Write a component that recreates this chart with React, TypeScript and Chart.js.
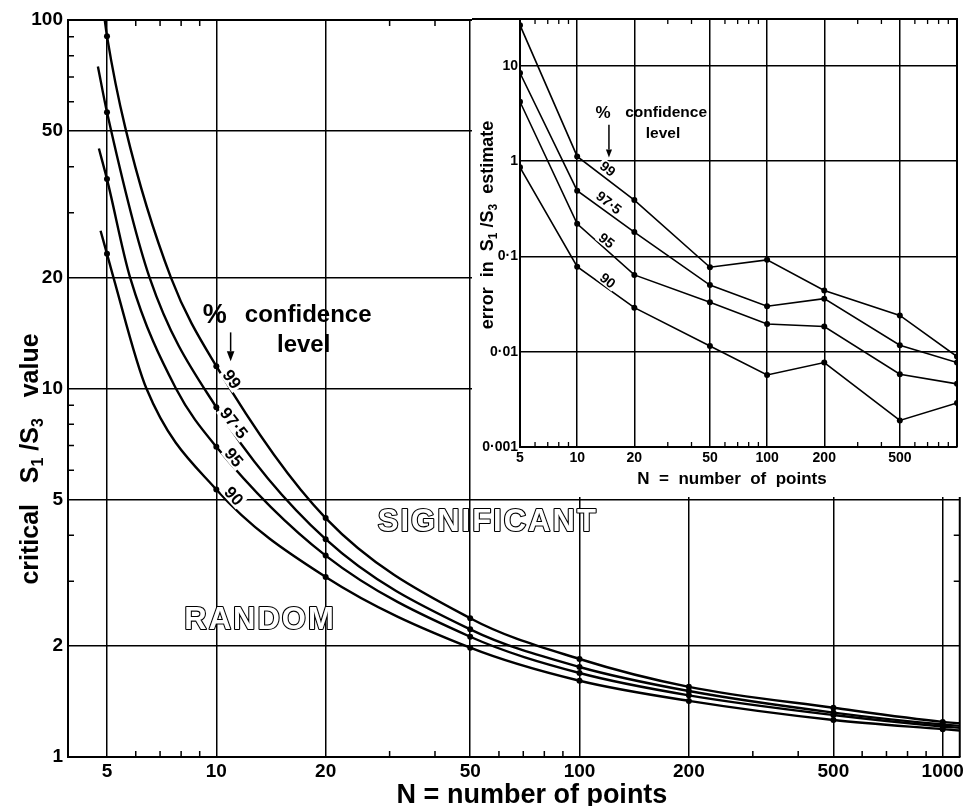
import React, { useEffect, useRef } from 'react';
import { Chart, registerables } from 'chart.js';

Chart.register(...registerables);

const FONT = "'Liberation Sans', Arial, Helvetica, sans-serif";

// ---------- main chart: critical S1/S3 value ----------
const LEVELS = ['99', '97·5', '95', '90'];
const N_VALUES = [5, 10, 20, 50, 100, 200, 500, 1000];
const CRIT_99 = [90.4, 11.5, 4.45, 2.38, 1.845, 1.55, 1.36, 1.245];
const CRIT_975 = [56.2, 8.89, 3.9, 2.22, 1.755, 1.51, 1.32, 1.225];
const CRIT_95 = [37.0, 6.95, 3.52, 2.12, 1.69, 1.47, 1.3, 1.21];
const CRIT_90 = [23.2, 5.32, 3.08, 1.98, 1.61, 1.42, 1.26, 1.19];
// extra points (drawn without markers)
const TRACE_99 = [[4.93, 100], [5.61, 51.2], [7.5, 20], [1114, 1.235]];
const TRACE_975 = [[4.72, 74.8], [6.55, 20], [1114, 1.215]];
const TRACE_95 = [[4.75, 44.8], [5.79, 20], [7.74, 10], [1114, 1.2]];
const TRACE_90 = [[4.8, 26.8], [5.21, 20], [6.42, 10], [1114, 1.18]];

// ---------- inset: error in S1/S3 estimate ----------
const ERR_99 = [26.7, 1.12, 0.39, 0.077, 0.092, 0.044, 0.024, 0.0089];
const ERR_975 = [8.4, 0.49, 0.18, 0.05, 0.03, 0.036, 0.0117, 0.0077];
const ERR_95 = [4.2, 0.22, 0.064, 0.033, 0.0195, 0.0184, 0.0058, 0.0046];
const ERR_90 = [0.86, 0.078, 0.029, 0.0115, 0.0057, 0.0077, 0.0019, 0.0029];

// ---------- ticks ----------
const MAIN_X_TICKS = [5, 10, 20, 50, 100, 200, 500, 1000];
const MAIN_X_LABELS = ['5', '10', '20', '50', '100', '200', '500', '1000'];
const MAIN_Y_TICKS = [1, 2, 5, 10, 20, 50, 100];
const MAIN_Y_LABELS = ['1', '2', '5', '10', '20', '50', '100'];
const X_MINOR = [6, 7, 8, 9, 30, 40, 60, 70, 80, 90, 300, 400, 600, 700, 800, 900];
const Y_MINOR = [3, 4, 6, 7, 8, 9, 30, 40, 60, 70, 80, 90];
const INSET_X_TICKS = [5, 10, 20, 50, 100, 200, 500, 1000];
const INSET_X_LABELS = ['5', '10', '20', '50', '100', '200', '500', ''];
const INSET_Y_TICKS = [0.001, 0.01, 0.1, 1, 10];
const INSET_Y_LABELS = ['0·001', '0·01', '0·1', '1', '10'];

const MAIN_X_RANGE = [3.905, 1114];
const MAIN_Y_RANGE = [1, 100];
const INSET_X_RANGE = [5, 1000];
const INSET_Y_RANGE = [0.001, 31];

function curvePoints(dots: number[], trace: number[][]) {
  const pts = dots
    .map((v, i) => ({ x: N_VALUES[i], y: v, dot: true }))
    .concat(trace.map(([x, y]) => ({ x, y, dot: false })));
  pts.sort((a, b) => a.x - b.x);
  return pts;
}

function rotLabel(ctx: any, text: string, cx: number, cy: number, deg: number, size: number, bg = true) {
  ctx.save();
  ctx.translate(cx, cy);
  ctx.rotate((deg * Math.PI) / 180);
  ctx.font = `bold ${size}px ${FONT}`;
  ctx.textAlign = 'center';
  ctx.textBaseline = 'middle';
  if (bg) {
    const w = ctx.measureText(text).width;
    ctx.fillStyle = '#fff';
    ctx.fillRect(-w / 2 - 2, -size * 0.45, w + 4, size * 0.9);
  }
  ctx.fillStyle = '#000';
  ctx.fillText(text, 0, 1);
  ctx.restore();
}

function plainText(ctx: any, text: string, cx: number, cy: number, size: number) {
  ctx.save();
  ctx.font = `bold ${size}px ${FONT}`;
  ctx.textAlign = 'center';
  ctx.textBaseline = 'middle';
  ctx.fillStyle = '#000';
  ctx.fillText(text, cx, cy);
  ctx.restore();
}

function arrow(ctx: any, x: number, y1: number, y2: number, head: number) {
  ctx.save();
  ctx.strokeStyle = '#000';
  ctx.fillStyle = '#000';
  ctx.lineWidth = 1.5;
  ctx.beginPath();
  ctx.moveTo(x, y1);
  ctx.lineTo(x, y2 - head);
  ctx.stroke();
  ctx.beginPath();
  ctx.moveTo(x - head * 0.38, y2 - head);
  ctx.lineTo(x + head * 0.38, y2 - head);
  ctx.lineTo(x, y2);
  ctx.closePath();
  ctx.fill();
  ctx.restore();
}

function outlineText(ctx: any, text: string, cx: number, cy: number) {
  ctx.save();
  ctx.font = `bold 31px ${FONT}`;
  try { ctx.letterSpacing = '2px'; } catch (e) {}
  ctx.textAlign = 'center';
  ctx.textBaseline = 'middle';
  ctx.lineJoin = 'round';
  ctx.lineWidth = 2.2;
  ctx.strokeStyle = '#000';
  ctx.strokeText(text, cx, cy);
  ctx.fillStyle = '#fff';
  ctx.fillText(text, cx, cy);
  ctx.restore();
}

type Run = { t: string; size: number; dy: number };
function drawRuns(ctx: any, runs: Run[], cx: number, cy: number, rot: number, base: number) {
  ctx.save();
  ctx.translate(cx, cy);
  ctx.rotate(rot);
  ctx.textAlign = 'left';
  ctx.textBaseline = 'alphabetic';
  ctx.fillStyle = '#000';
  let total = 0;
  for (const r of runs) {
    ctx.font = `bold ${r.size}px ${FONT}`;
    total += ctx.measureText(r.t).width;
  }
  let x = -total / 2;
  for (const r of runs) {
    ctx.font = `bold ${r.size}px ${FONT}`;
    ctx.fillText(r.t, x, base + r.dy);
    x += ctx.measureText(r.t).width;
  }
  ctx.restore();
}

function titleRuns(big: number, small: number, dy: number, a: string, b: string): Run[] {
  return [
    { t: a + 'S', size: big, dy: 0 },
    { t: '1', size: small, dy },
    { t: ' /S', size: big, dy: 0 },
    { t: '3', size: small, dy },
    { t: b, size: big, dy: 0 },
  ];
}

const mainDecor = {
  id: 'mainDecor',
  afterDraw(chart: any) {
    const { ctx, chartArea: a } = chart;
    const xs = chart.scales.x;
    const ys = chart.scales.y;
    const X = (n: number) => xs.getPixelForValue(n);
    const Y = (v: number) => ys.getPixelForValue(v);
    ctx.save();
    ctx.strokeStyle = '#000';
    ctx.lineWidth = 2;
    ctx.beginPath();
    ctx.moveTo(a.left, a.top);
    ctx.lineTo(a.right, a.top);
    ctx.lineTo(a.right, a.bottom);
    ctx.stroke();
    ctx.lineWidth = 1.5;
    ctx.beginPath();
    for (const v of X_MINOR) {
      const px = X(v);
      ctx.moveTo(px, a.bottom);
      ctx.lineTo(px, a.bottom - 6);
      ctx.moveTo(px, a.top);
      ctx.lineTo(px, a.top + 6);
    }
    for (const v of Y_MINOR) {
      const py = Y(v);
      ctx.moveTo(a.left, py);
      ctx.lineTo(a.left + 6, py);
      ctx.moveTo(a.right, py);
      ctx.lineTo(a.right - 6, py);
    }
    ctx.stroke();
    ctx.restore();

    // curve labels
    const pos = [[11.04, 10.6, 55], [11.18, 8.06, 52], [11.18, 6.5, 50], [11.18, 5.11, 48]];
    LEVELS.forEach((t, i) => rotLabel(ctx, t, X(pos[i][0]), Y(pos[i][1]), pos[i][2], 17));

    // % confidence level
    plainText(ctx, '%', X(9.9), Y(15.8), 27);
    plainText(ctx, 'confidence', X(17.9), Y(15.8), 24);
    plainText(ctx, 'level', X(17.4), Y(13.1), 24);
    arrow(ctx, X(10.95), Y(14.2), Y(11.85), 10);

    outlineText(ctx, 'SIGNIFICANT', X(55.9), Y(4.32));
    outlineText(ctx, 'RANDOM', X(13.19), Y(2.35));

    // axis titles
    drawRuns(ctx, titleRuns(25, 16, 5, 'critical   ', '   value'), 29, 459, -Math.PI / 2, 9);
    drawRuns(ctx, [{ t: 'N = number of points', size: 27, dy: 0 }], 532, 793, 0, 10);
  },
};

const insetDecor = {
  id: 'insetDecor',
  beforeDraw(chart: any) {
    const { ctx, width, height } = chart;
    ctx.save();
    ctx.fillStyle = '#fff';
    ctx.fillRect(0, 0, width, height);
    ctx.restore();
  },
  afterDraw(chart: any) {
    const { ctx, chartArea: a } = chart;
    const xs = chart.scales.x;
    const ys = chart.scales.y;
    const X = (n: number) => xs.getPixelForValue(n);
    const Y = (v: number) => ys.getPixelForValue(v);
    ctx.save();
    ctx.strokeStyle = '#000';
    ctx.lineWidth = 2;
    ctx.beginPath();
    ctx.moveTo(0, a.top);
    ctx.lineTo(a.right, a.top);
    ctx.lineTo(a.right, a.bottom);
    ctx.stroke();
    ctx.lineWidth = 1.3;
    ctx.beginPath();
    for (const v of X_MINOR) {
      const px = X(v);
      ctx.moveTo(px, a.bottom);
      ctx.lineTo(px, a.bottom - 5);
      ctx.moveTo(px, a.top);
      ctx.lineTo(px, a.top + 5);
    }
    ctx.stroke();
    ctx.restore();

    const pos = [[14.5, 0.833], [14.7, 0.367], [14.3, 0.147], [14.5, 0.056]];
    LEVELS.forEach((t, i) => rotLabel(ctx, t, X(pos[i][0]), Y(pos[i][1]), 38, 14));

    plainText(ctx, '%', X(13.7), Y(3.21), 17);
    plainText(ctx, 'confidence', X(29.4), Y(3.21), 15.5);
    plainText(ctx, 'level', X(28.3), Y(1.94), 15.5);
    arrow(ctx, X(14.7), Y(2.41), Y(1.09), 8);

    drawRuns(ctx, titleRuns(18, 12, 4, 'error  in  ', '  estimate'), 487 - 472, 225, -Math.PI / 2, 6);
    drawRuns(ctx, [{ t: 'N  =  number  of  points', size: 17, dy: 0 }], 732 - 472, 478, 0, 6);
  },
};

function logAxis(range: number[], ticks: number[], labels: string[], size: number, fit: (s: any) => void, pad: number) {
  return {
    type: 'logarithmic',
    min: range[0],
    max: range[1],
    afterBuildTicks: (s: any) => {
      s.ticks = ticks.map((v) => ({ value: v }));
    },
    afterFit: fit,
    ticks: {
      autoSkip: false,
      maxRotation: 0,
      minRotation: 0,
      padding: pad,
      color: '#000',
      font: { family: FONT, size, weight: 'bold' },
      callback: (_v: any, i: number) => labels[i],
    },
    grid: { color: '#000', lineWidth: 1.5, drawTicks: false },
    border: { display: true, color: '#000', width: 2 },
  };
}

export default function App() {
  const mainRef = useRef<HTMLCanvasElement>(null);
  const insetRef = useRef<HTMLCanvasElement>(null);

  useEffect(() => {
    document.body.style.margin = '0';
    const mk = (dots: number[], trace: number[][]) => {
      const pts = curvePoints(dots, trace);
      return {
        data: pts,
        borderColor: '#000',
        borderWidth: 2.4,
        pointRadius: pts.map((p) => (p.dot ? 3 : 0)),
        pointBackgroundColor: '#000',
        pointBorderWidth: 0,
        cubicInterpolationMode: 'monotone',
        fill: false,
      };
    };
    const main = new Chart(mainRef.current as HTMLCanvasElement, {
      type: 'line',
      data: {
        datasets: [
          mk(CRIT_99, TRACE_99),
          mk(CRIT_975, TRACE_975),
          mk(CRIT_95, TRACE_95),
          mk(CRIT_90, TRACE_90),
        ] as any,
      },
      options: {
        animation: false,
        responsive: false,
        devicePixelRatio: 1,
        layout: { padding: { top: 20, right: 7, left: 0, bottom: 0 } },
        plugins: { legend: { display: false }, tooltip: { enabled: false } },
        scales: {
          x: logAxis(MAIN_X_RANGE, MAIN_X_TICKS, MAIN_X_LABELS, 19, (s: any) => { s.height = 49; }, 3),
          y: logAxis(MAIN_Y_RANGE, MAIN_Y_TICKS, MAIN_Y_LABELS, 19, (s: any) => { s.width = 68; }, 5),
        } as any,
      },
      plugins: [mainDecor],
    });

    const mi = (vals: number[]) => ({
      data: vals.map((v, i) => ({ x: N_VALUES[i], y: v })),
      borderColor: '#000',
      borderWidth: 1.6,
      pointRadius: 3,
      pointBackgroundColor: '#000',
      pointBorderWidth: 0,
      tension: 0,
      fill: false,
    });
    const inset = new Chart(insetRef.current as HTMLCanvasElement, {
      type: 'line',
      data: { datasets: [mi(ERR_99), mi(ERR_975), mi(ERR_95), mi(ERR_90)] as any },
      options: {
        animation: false,
        responsive: false,
        devicePixelRatio: 1,
        layout: { padding: { top: 19, right: 10, left: 0, bottom: 0 } },
        plugins: { legend: { display: false }, tooltip: { enabled: false } },
        scales: {
          x: logAxis(INSET_X_RANGE, INSET_X_TICKS, INSET_X_LABELS, 14, (s: any) => { s.height = 50; }, 3),
          y: logAxis(INSET_Y_RANGE, INSET_Y_TICKS, INSET_Y_LABELS, 14, (s: any) => { s.width = 48; }, 2),
        } as any,
      },
      plugins: [insetDecor],
    });

    return () => {
      main.destroy();
      inset.destroy();
    };
  }, []);

  return (
    <div style={{ position: 'relative', width: 967, height: 806, overflow: 'hidden', background: '#fff' }}>
      <canvas ref={mainRef} width={967} height={806} style={{ position: 'absolute', left: 0, top: 0 }} />
      <canvas ref={insetRef} width={495} height={497} style={{ position: 'absolute', left: 472, top: 0 }} />
    </div>
  );
}
